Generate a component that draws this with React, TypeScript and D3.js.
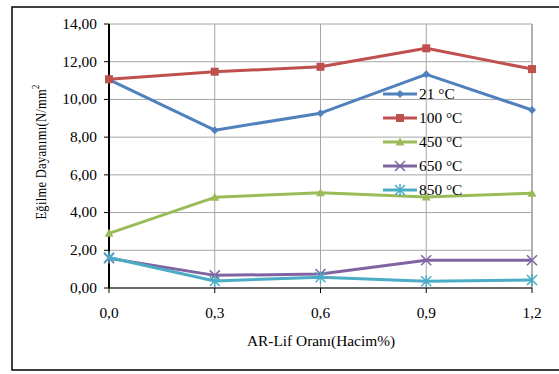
import React from "react";
import * as d3 from "d3";

const categories = ["0,0", "0,3", "0,6", "0,9", "1,2"];
const yTicks = [0, 2, 4, 6, 8, 10, 12, 14];
const seriesNames = ["21 °C", "100 °C", "450 °C", "650 °C", "850 °C"];
const s21 = [11.05, 8.37, 9.27, 11.33, 9.44];
const s100 = [11.07, 11.47, 11.73, 12.71, 11.61];
const s450 = [2.9, 4.81, 5.05, 4.83, 5.03];
const s650 = [1.58, 0.67, 0.74, 1.47, 1.47];
const s850 = [1.62, 0.37, 0.57, 0.36, 0.42];
const seriesValues = [s21, s100, s450, s650, s850];
const colors = ["#4F81BD", "#C0504D", "#9BBB59", "#8064A2", "#4BACC6"];
const markers = ["diamond", "square", "triangle", "x", "star"];

const W = 559, H = 374;
const L = 109, R = 532, T = 24, B = 288;
const SX = 1.1;

function Marker({ type, x, y, color }: { type: string; x: number; y: number; color: string }) {
  if (type === "diamond") {
    const s = 4;
    return <path d={`M${x},${y - s}L${x + s},${y}L${x},${y + s}L${x - s},${y}Z`} fill={color} />;
  }
  if (type === "square") {
    return <rect x={x - 4} y={y - 4} width={8} height={8} fill={color} />;
  }
  if (type === "triangle") {
    return <path d={`M${x},${y - 4.5}L${x + 4.5},${y + 3.5}L${x - 4.5},${y + 3.5}Z`} fill={color} />;
  }
  if (type === "x") {
    const s = 5;
    return (
      <path d={`M${x - s},${y - s}L${x + s},${y + s}M${x - s},${y + s}L${x + s},${y - s}`} stroke={color} strokeWidth={1.5} />
    );
  }
  const s = 5;
  return (
    <path
      d={`M${x - s},${y - s}L${x + s},${y + s}M${x - s},${y + s}L${x + s},${y - s}M${x},${y - s - 1}L${x},${y + s + 1}`}
      stroke={color}
      strokeWidth={1.5}
    />
  );
}

function HText({ x, y, anchor, children, dy }: { x: number; y: number; anchor?: string; children: any; dy?: string }) {
  return (
    <g transform={`translate(${x},${y}) scale(${SX},1)`}>
      <text x={0} y={0} dy={dy} textAnchor={anchor || "start"} fontSize={14} fill="#000">
        {children}
      </text>
    </g>
  );
}

export default function App() {
  const x = d3.scalePoint<string>().domain(categories).range([L, R]).padding(0);
  const y = d3.scaleLinear().domain([0, 14]).range([B, T]);
  const line = d3
    .line<number>()
    .x((_, i) => x(categories[i]) as number)
    .y((d) => y(d));
  const font = "'Liberation Serif', 'Times New Roman', serif";
  const legendX = 383;
  const legendY0 = 94;
  const legendDy = 24;

  return (
    <svg width={W} height={H} style={{ position: "absolute", left: 0, top: 0 }} fontFamily={font}>
      <rect x={0} y={0} width={W} height={H} fill="#fff" />
      <rect x={12} y={7} width={W + 10} height={363} fill="#fff" stroke="#000" strokeWidth={1.5} />
      {yTicks.map((t) => (
        <line key={"gy" + t} x1={L} x2={R} y1={y(t)} y2={y(t)} stroke="#A6A6A6" strokeWidth={1} />
      ))}
      {categories.map((c) => (
        <line key={"gx" + c} x1={x(c)} x2={x(c)} y1={T} y2={B} stroke="#A6A6A6" strokeWidth={1} />
      ))}
      <line x1={R} x2={R} y1={T} y2={B} stroke="#A6A6A6" strokeWidth={1.5} />
      <line x1={L} x2={L} y1={T} y2={B} stroke="#000" strokeWidth={2} />
      <line x1={L} x2={R} y1={B} y2={B} stroke="#000" strokeWidth={1.2} />
      {yTicks.map((t) => (
        <g key={"ty" + t}>
          <line x1={L - 5} x2={L} y1={y(t)} y2={y(t)} stroke="#000" />
          <HText x={97} y={y(t)} dy="0.35em" anchor="end">
            {t.toFixed(2).replace(".", ",")}
          </HText>
        </g>
      ))}
      {categories.map((c) => (
        <g key={"tx" + c}>
          <line x1={x(c)} x2={x(c)} y1={B} y2={B + 5} stroke="#000" />
          <HText x={x(c) as number} y={318} anchor="middle">
            {c}
          </HText>
        </g>
      ))}
      <HText x={321} y={346} anchor="middle">
        AR-Lif Oranı(Hacim%)
      </HText>
      <text transform={`translate(46,152) rotate(-90) scale(1,1.15)`} textAnchor="middle" fontSize={12.5} letterSpacing={0.3} fill="#000">
        Eğilme Dayanımı(N/mm<tspan dy={-6} fontSize={8.5}>2</tspan>
      </text>
      {seriesValues.map((vals, si) => (
        <g key={"s" + si}>
          <path d={line(vals) || ""} fill="none" stroke={colors[si]} strokeWidth={3} strokeLinejoin="round" />
          {vals.map((v, i) => (
            <Marker key={i} type={markers[si]} x={x(categories[i]) as number} y={y(v)} color={colors[si]} />
          ))}
        </g>
      ))}
      {seriesNames.map((n, si) => {
        const ly = legendY0 + si * legendDy;
        return (
          <g key={"l" + si}>
            <line x1={legendX} x2={legendX + 34} y1={ly} y2={ly} stroke={colors[si]} strokeWidth={3} />
            <Marker type={markers[si]} x={legendX + 17} y={ly} color={colors[si]} />
            <HText x={legendX + 36} y={ly} dy="0.35em">
              {n}
            </HText>
          </g>
        );
      })}
    </svg>
  );
}
